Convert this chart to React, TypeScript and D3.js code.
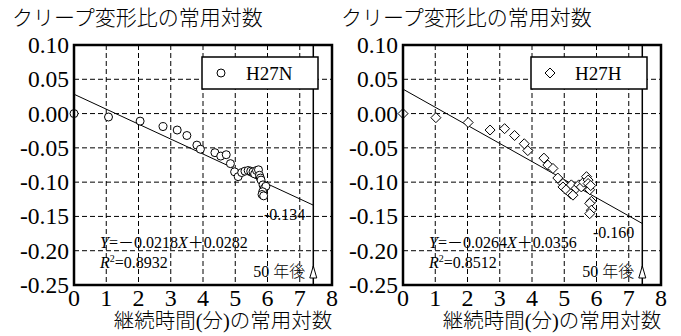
import React from 'react';
import * as d3 from 'd3';

// 継続時間(分)の常用対数 / クリープ変形比の常用対数
const logTimeN = [0, 1.07, 2.05, 2.76, 3.2, 3.5, 3.81, 3.92, 4.37, 4.55, 4.72, 4.85, 4.98, 5.09, 5.2, 5.3, 5.4, 5.48, 5.55, 5.6, 5.66, 5.72, 5.75, 5.78, 5.8, 5.86, 5.9, 5.95, 5.85, 5.83, 5.88];
const ratioN = [0, -0.005, -0.011, -0.019, -0.024, -0.032, -0.046, -0.052, -0.057, -0.062, -0.06, -0.073, -0.085, -0.092, -0.086, -0.084, -0.083, -0.084, -0.085, -0.088, -0.083, -0.082, -0.09, -0.094, -0.097, -0.104, -0.109, -0.106, -0.114, -0.118, -0.12];

const logTimeH = [0, 1.02, 2.02, 2.7, 3.15, 3.46, 3.76, 3.87, 4.37, 4.49, 4.65, 4.8, 4.96, 4.96, 5.06, 5.2, 5.22, 5.27, 5.37, 5.45, 5.53, 5.6, 5.69, 5.74, 5.74, 5.79, 5.82, 5.84, 5.79, 5.84, 5.79];
const ratioH = [0, -0.006, -0.013, -0.024, -0.022, -0.032, -0.044, -0.054, -0.065, -0.075, -0.08, -0.094, -0.102, -0.107, -0.111, -0.117, -0.104, -0.119, -0.109, -0.104, -0.107, -0.1, -0.092, -0.097, -0.102, -0.111, -0.105, -0.128, -0.131, -0.141, -0.146];

const xTicks = [0, 1, 2, 3, 4, 5, 6, 7, 8];
const yTicks = [0.1, 0.05, 0, -0.05, -0.1, -0.15, -0.2, -0.25];
const fiftyYears = 7.42; // log10(50年 × 525600分)

const serif = "Liberation Serif, Times New Roman, DejaVu Serif, serif, Noto Sans CJK JP";
const cjk = "Liberation Serif, Times New Roman, serif, Noto Sans CJK JP";

type PanelProps = {
  left: number;
  xs: number[];
  ys: number[];
  marker: 'circle' | 'diamond';
  label: string;
  slope: number;
  intercept: number;
  eq: string;
  r2: string;
  endLabel: string;
};

const Panel = ({ left, xs, ys, marker, label, slope, intercept, eq, r2, endLabel }: PanelProps) => {
  const width = 258;
  const top = 45;
  const bottom = 285;
  const x = d3.scaleLinear().domain([0, 8]).range([left, left + width]);
  const y = d3.scaleLinear().domain([-0.25, 0.1]).range([bottom, top]);

  const fit = d3.line<number>()
    .x(d => x(d))
    .y(d => y(slope * d + intercept));

  const endY = slope * fiftyYears + intercept;
  const vx = x(fiftyYears);

  const drawMarker = (cx: number, cy: number, key: number | string) =>
    marker === 'circle'
      ? <circle key={key} cx={cx} cy={cy} r={4} fill="#fff" stroke="#000" strokeWidth={1} />
      : <path key={key} d={`M${cx},${cy - 5}L${cx + 5},${cy}L${cx},${cy + 5}L${cx - 5},${cy}Z`} fill="#fff" stroke="#000" strokeWidth={1} />;

  const legendRight = left + width - 14;

  return (
    <g>
      <text x={left - 62} y={25} fontFamily={cjk} fontWeight={300} fontSize={21} fill="#000">クリープ変形比の常用対数</text>

      {/* grid */}
      {xTicks.slice(1, -1).map(t => (
        <line key={'gx' + t} x1={x(t)} x2={x(t)} y1={top} y2={bottom} stroke="#000" strokeWidth={1} strokeDasharray="5,3" />
      ))}
      {yTicks.slice(1, -1).map(t => (
        <line key={'gy' + t} x1={left} x2={left + width} y1={y(t)} y2={y(t)} stroke="#000" strokeWidth={1} strokeDasharray="5,3" />
      ))}

      {/* 50年後 line */}
      <line x1={vx} x2={vx} y1={top} y2={bottom} stroke="#000" strokeWidth={1.5} />
      <path d={`M${vx},${bottom - 19}L${vx + 3.5},${bottom - 7}L${vx - 3.5},${bottom - 7}Z`} fill="#fff" stroke="#000" strokeWidth={1} />

      {/* regression */}
      <path d={fit([0, fiftyYears]) || ''} fill="none" stroke="#000" strokeWidth={1} />

      {xs.map((d, i) => drawMarker(x(d), y(ys[i]), i))}

      {/* legend */}
      <rect x={legendRight - 116} y={57} width={116} height={32} fill="#fff" stroke="#000" strokeWidth={1.5} />
      {drawMarker(legendRight - 97, 73, 'lg')}
      <text x={legendRight - 72} y={80} fontFamily={serif} fontSize={19} fill="#000">{label}</text>

      {/* frame */}
      <rect x={left} y={top} width={width} height={bottom - top} fill="none" stroke="#000" strokeWidth={2.5} />

      {/* annotations */}
      <text x={vx - 8} y={y(endY) + 15} textAnchor="end" fontFamily={serif} fontSize={16} fill="#000">{endLabel}</text>
      <text x={left + 26} y={248} fontFamily={serif} fontSize={16} fill="#000">
        <tspan fontStyle="italic">Y</tspan>{eq.split('X')[0]}<tspan fontStyle="italic">X</tspan>{eq.split('X')[1]}
      </text>
      <text x={left + 26} y={268} fontFamily={serif} fontSize={16} fill="#000">
        <tspan fontStyle="italic">R</tspan><tspan fontSize={10} dy={-6}>2</tspan><tspan dy={6}>{r2}</tspan>
      </text>
      <text x={vx - 8} y={277} textAnchor="end" fontFamily={serif} fontWeight={300} fontSize={16} fill="#000">50 年後</text>

      {/* tick labels */}
      {yTicks.map(t => (
        <text key={'ty' + t} x={left - 5} y={y(t) + 8} textAnchor="end" fontFamily={serif} fontSize={23.5} fill="#000">{t.toFixed(2)}</text>
      ))}
      {xTicks.map(t => (
        <text key={'tx' + t} x={x(t)} y={306} textAnchor="middle" fontFamily={serif} fontSize={24} fill="#000">{t}</text>
      ))}
      <text x={left + 149} y={328} textAnchor="middle" fontFamily={cjk} fontWeight={300} fontSize={20.5} fill="#000">継続時間(分)の常用対数</text>
    </g>
  );
};

export default function App() {
  return (
    <svg width={681} height={336} style={{ position: 'absolute', left: 0, top: 0, background: '#fff' }}>
      <rect width={681} height={336} fill="#fff" />
      <Panel left={74} xs={logTimeN} ys={ratioN} marker="circle" label="H27N"
        slope={-0.0218} intercept={0.0282} eq="=－0.0218X＋0.0282" r2="=0.8932" endLabel="-0.134" />
      <Panel left={403} xs={logTimeH} ys={ratioH} marker="diamond" label="H27H"
        slope={-0.0264} intercept={0.0356} eq="=－0.0264X＋0.0356" r2="=0.8512" endLabel="-0.160" />
    </svg>
  );
}
